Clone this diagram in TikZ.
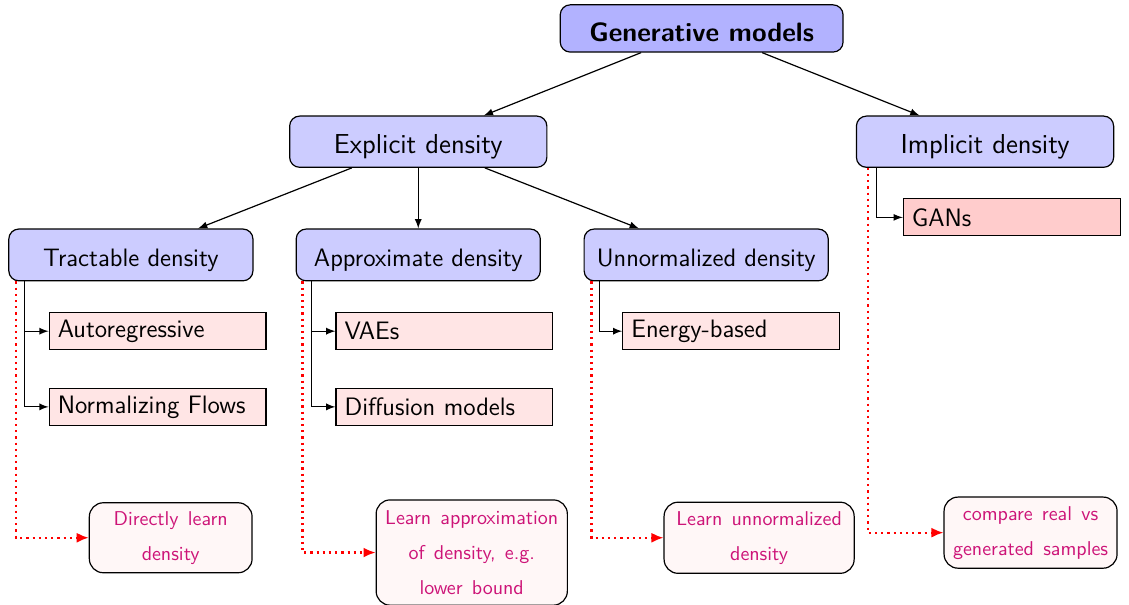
\documentclass[tikz,border=0pt]{standalone}
\usepackage{tikz}
\usetikzlibrary{arrows,arrows.meta}
\usepackage{color}
\definecolor{notetext}{RGB}{205,20,120}

\begin{document}
\begin{tikzpicture}[->,>=latex,semithick,font=\sffamily]
  \tikzstyle{top}=[draw=black,fill=blue!30,rounded corners=5pt,minimum width=4.97cm,minimum height=0.83cm,text height=0.48cm,font=\sffamily\bfseries\fontsize{13.3}{16}\selectfont]
  \tikzstyle{family}=[draw=black,fill=blue!20,rounded corners=5pt,minimum width=4.52cm,minimum height=0.9cm,text height=0.5cm,font=\sffamily\fontsize{13.7}{16}\selectfont]
  \tikzstyle{kind}=[draw=black,fill=blue!20,rounded corners=5pt,minimum width=4.29cm,minimum height=0.91cm,text height=0.5cm,font=\sffamily\fontsize{12.6}{15}\selectfont]
  \tikzstyle{model}=[draw=black,fill=red!10,text width=3.51cm,inner xsep=0.15cm,minimum height=0.65cm,align=left,font=\sffamily\fontsize{12.6}{15}\selectfont]
  \tikzstyle{note}=[draw=black,fill=red!3,text=notetext,rounded corners=7pt,align=center,font=\sffamily\fontsize{10}{17.5}\selectfont,execute at begin node={\spaceskip=4.6pt\relax}]
  \tikzstyle{hint}=[red,line width=1.1pt,dotted,-{Latex[length=6pt,width=5pt]}]

  \useasboundingbox (0,0) rectangle (19.84,-10.63);

  \node[top]    (G) at (12.33,-0.50) {Generative models};
  \node[family] (E) at (7.35,-2.49)  {Explicit density};
  \node[family] (I) at (17.31,-2.49) {Implicit density};

  \node[kind] (T) at (2.30,-4.48)  {Tractable density};
  \node[kind] (A) at (7.35,-4.48)  {Approximate density};
  \node[kind] (U) at (12.41,-4.48) {Unnormalized density};

  \node[model] (AR)  at (2.77,-5.82)  {Autoregressive};
  \node[model] (NF)  at (2.77,-7.15)  {Normalizing Flows};
  \node[model] (VAE) at (7.81,-5.82)  {VAEs};
  \node[model] (DM)  at (7.81,-7.15)  {Diffusion models};
  \node[model] (EB)  at (12.85,-5.82) {Energy-based};
  \node[model,fill=red!20] (GAN) at (17.78,-3.82) {GANs};

  \node[note,minimum width=2.86cm,minimum height=1.23cm] (N1) at (3.00,-9.45)  {Directly learn\\density};
  \node[note,minimum width=3.36cm,minimum height=1.85cm] (N2) at (8.29,-9.71)  {Learn approximation\\of density, e.g.\\lower bound};
  \node[note,minimum width=3.34cm,minimum height=1.25cm] (N3) at (13.34,-9.45) {Learn unnormalized\\density};
  \node[note,minimum width=3.04cm,minimum height=1.25cm] (N4) at (18.11,-9.36) {compare real vs\\generated samples};

  \path (G) edge (E)
            edge (I)
        (E) edge (T)
            edge (A)
            edge (U);

  \draw ([xshift=0.28cm]T.south west) |- (AR.west);
  \draw ([xshift=0.28cm]T.south west) |- (NF.west);
  \draw ([xshift=0.28cm]A.south west) |- (VAE.west);
  \draw ([xshift=0.28cm]A.south west) |- (DM.west);
  \draw ([xshift=0.28cm]U.south west) |- (EB.west);
  \draw ([xshift=0.37cm]I.south west) |- (GAN.west);

  \draw[hint] ([xshift=0.14cm]T.south west) |- (N1.west);
  \draw[hint] ([xshift=0.12cm]A.south west) |- (N2.west);
  \draw[hint] ([xshift=0.14cm]U.south west) |- (N3.west);
  \draw[hint] ([xshift=0.21cm]I.south west) |- (N4.west);
\end{tikzpicture}
\end{document}
